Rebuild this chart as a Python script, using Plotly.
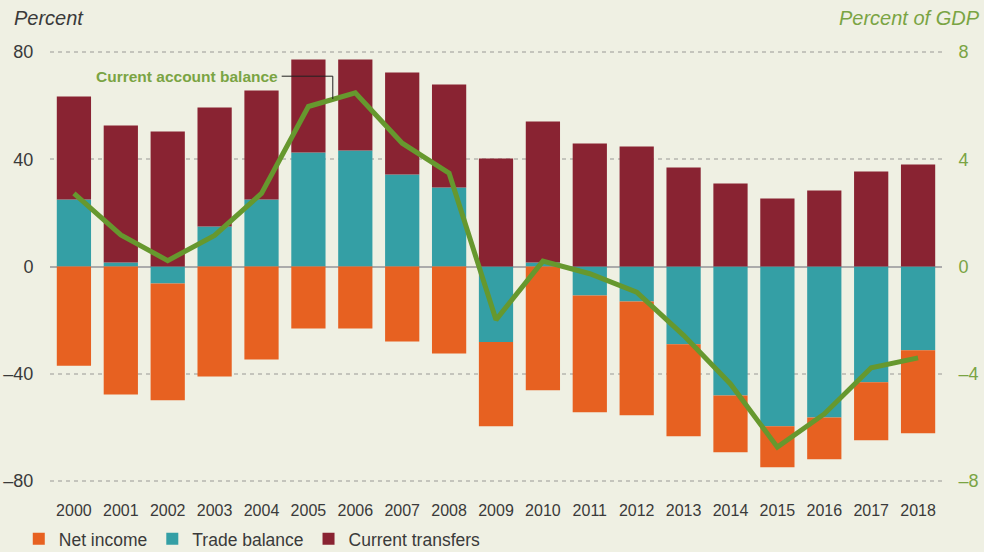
import plotly.graph_objects as go

years = [str(y) for y in range(2000, 2019)]
trade_balance = [25, 1.5, -6.3, 14.9, 25, 42.5, 43.3, 34.3, 29.5, -28.2, 1.5, -10.8, -13.1, -29, -48.1, -59.6, -56.3, -43.2, -31.2]
net_income = [-37, -47.8, -43.6, -41, -34.7, -23.1, -23.1, -28, -32.5, -31.4, -46.2, -43.6, -42.4, -34.3, -21.2, -15.3, -15.6, -21.6, -31]
current_transfers = [38.4, 51.1, 50.4, 44.4, 40.7, 34.7, 33.9, 38.1, 38.4, 40.3, 52.6, 45.9, 44.8, 36.9, 31, 25.4, 28.4, 35.4, 38.1]
current_account = [2.73, 1.18, 0.22, 1.16, 2.73, 5.97, 6.48, 4.6, 3.48, -1.99, 0.2, -0.27, -0.96, -2.57, -4.38, -6.74, -5.5, -3.78, -3.41]

left_ticks = [-80, -40, 0, 40, 80]
left_ticktext = ["\u201380", "\u201340", "0", "40", "80"]
right_ticks = [-8, -4, 0, 4, 8]
right_ticktext = ["\u20138", "\u20134", "0", "4", "8"]

BG = "#eff0e3"
ORANGE = "#e76121"
TEAL = "#349fa5"
MAROON = "#892332"
GREEN = "#66982e"
GREEN_TXT = "#7aa443"
FONT = "Liberation Sans, Arial, sans-serif"

fig = go.Figure()
fig.add_trace(go.Bar(x=years, y=trade_balance, name="Trade balance", marker=dict(color=TEAL, line=dict(width=0)), legendrank=2))
fig.add_trace(go.Bar(x=years, y=net_income, name="Net income", marker=dict(color=ORANGE, line=dict(width=0)), legendrank=1))
fig.add_trace(go.Bar(x=years, y=current_transfers, name="Current transfers", marker=dict(color=MAROON, line=dict(width=0)), legendrank=3))
fig.add_trace(go.Scatter(x=years, y=current_account, yaxis="y2", mode="lines", line=dict(color=GREEN, width=5), showlegend=False, name="Current account balance"))

fig.update_layout(
    width=984, height=552,
    paper_bgcolor=BG, plot_bgcolor=BG,
    barmode="relative", bargap=0.27,
    margin=dict(l=50, r=42, t=51, b=70, autoexpand=False),
    font=dict(family=FONT, size=16, color="#3a3a3a"),
    xaxis=dict(type="category", showgrid=False, ticks="outside", ticklen=14, tickcolor=BG, automargin=False,
               tickfont=dict(size=16, color="#3a3a3a"), showline=False, range=[-0.51, 18.51]),
    yaxis=dict(range=[-80.4, 80.4], tickvals=left_ticks, ticktext=left_ticktext, automargin=False,
               showgrid=True, gridcolor="#c4c4bc", griddash="4px,4px", gridwidth=1.5,
               zeroline=True, zerolinecolor="#ababab", zerolinewidth=2,
               ticks="outside", ticklen=12, tickcolor=BG,
               tickfont=dict(size=18, color="#3a3a3a"), showline=False),
    yaxis2=dict(range=[-8.04, 8.04], overlaying="y", side="right", tickvals=right_ticks, ticktext=right_ticktext,
                showgrid=False, zeroline=False, ticks="outside", ticklen=12, tickcolor=BG, automargin=False,
                tickfont=dict(size=18, color=GREEN_TXT), showline=False),
    legend=dict(orientation="h", x=-0.035, xanchor="left", y=-0.132, yanchor="middle",
                font=dict(size=17.5, color="#3a3a3a"), traceorder="normal", bgcolor="rgba(0,0,0,0)",
                itemwidth=30),
    annotations=[
        dict(text="<i>Percent</i>", xref="paper", yref="paper", x=-0.043, y=1.077, xanchor="left", yanchor="middle",
             showarrow=False, font=dict(size=20, color="#3a3a3a")),
        dict(text="<i>Percent of GDP</i>", xref="paper", yref="paper", x=1.045, y=1.077, xanchor="right", yanchor="middle",
             showarrow=False, font=dict(size=20, color=GREEN_TXT)),
        dict(text="<b>Current account balance</b>", xref="x", yref="y", x=4.4, y=71, xanchor="right", yanchor="middle",
             showarrow=False, font=dict(size=15.5, color=GREEN_TXT)),
    ],
    shapes=[
        dict(type="line", xref="x", yref="y", x0=4.43, x1=5.52, y0=71, y1=71, line=dict(color="#222", width=1)),
        dict(type="line", xref="x", yref="y", x0=5.52, x1=5.52, y0=71, y1=62.5, line=dict(color="#222", width=1)),
    ],
)

fig.write_html("out.html", config={"displayModeBar": False},
               post_script="document.body.style.margin='0';document.body.style.overflow='hidden';")
